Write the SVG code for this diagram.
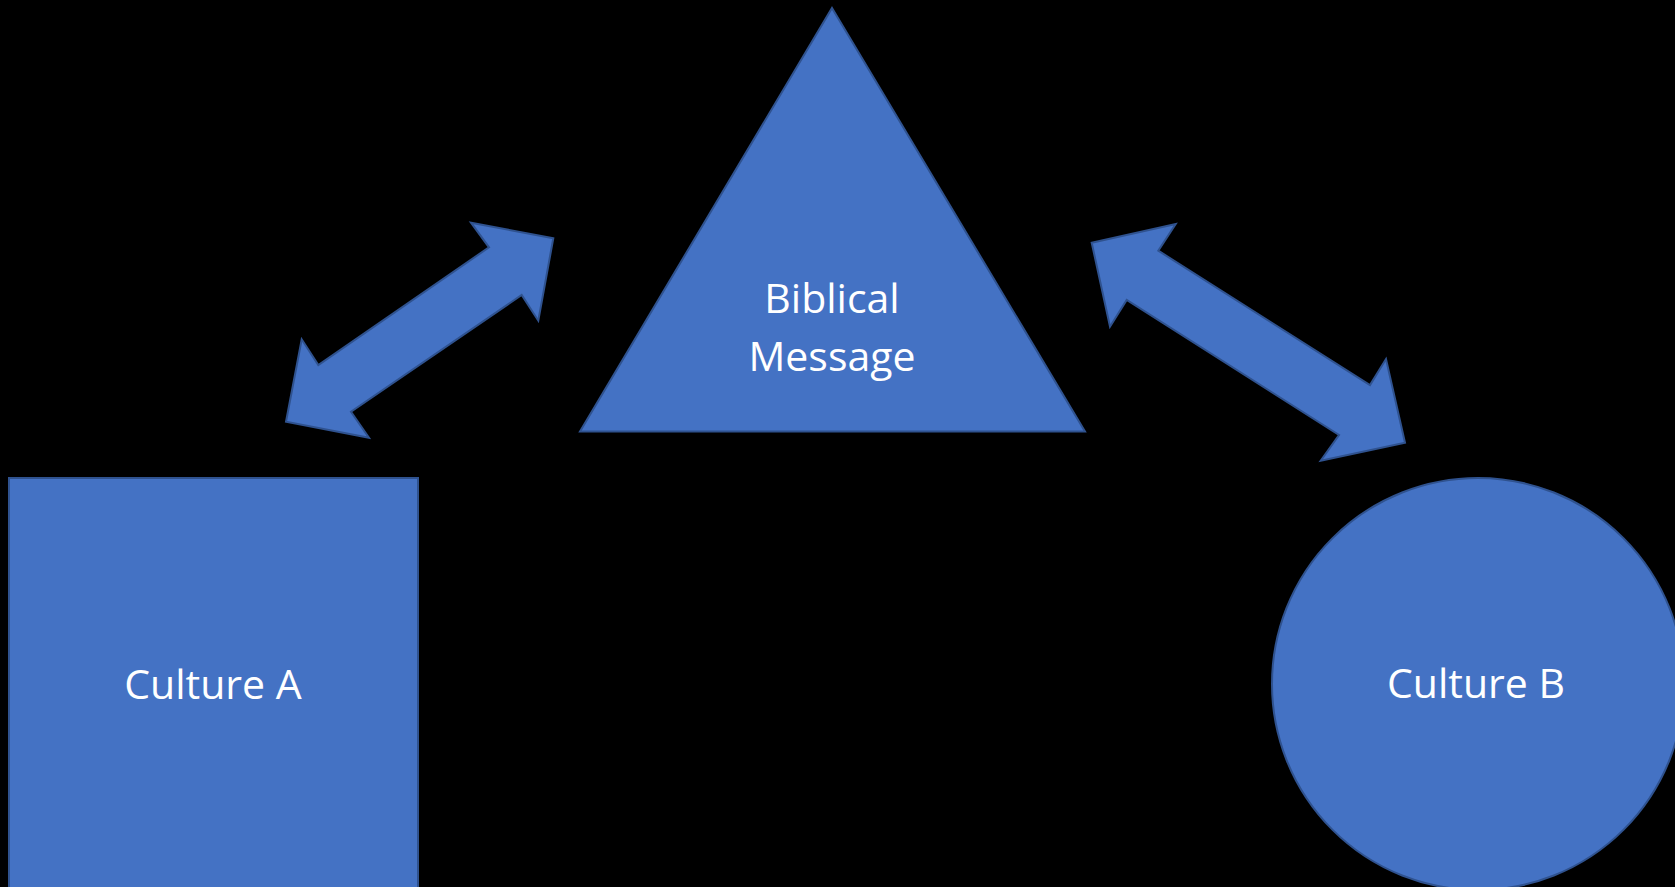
<svg xmlns="http://www.w3.org/2000/svg" width="1675" height="887" viewBox="0 0 1675 887">
<style>
.shape{fill:#4472C4;stroke:#2F528F;stroke-width:2;stroke-linejoin:miter}
.lbl{font-family:"Open Sans","Liberation Sans",sans-serif;font-size:41px;fill:#FFFFFF;text-anchor:middle}
</style>
<rect x="0" y="0" width="1675" height="887" fill="#000000"/>
<g id="connectors">
<polygon class="shape" points="553.3,238.3 471,222.7 489,247.3 318.3,365 301.7,339.3 286,421.7 369,437.7 351,411.7 521.7,295 538.3,320.7"/>
<polygon class="shape" points="1091.7,242.7 1175.7,224 1158.3,250.7 1370,385 1386,359 1405,442.7 1320.7,460.7 1339,435 1126.7,300 1110,326.7"/>
</g>
<g id="biblical-message">
<polygon class="shape" points="832,8 1085,431.5 580,431.5"/>
<text class="lbl" x="832" y="313">Biblical</text>
<text class="lbl" x="832" y="371">Message</text>
</g>
<g id="culture-a">
<rect class="shape" x="9" y="478" width="409" height="410"/>
<text class="lbl" x="213" y="699">Culture A</text>
</g>
<g id="culture-b">
<circle class="shape" cx="1478" cy="684" r="206"/>
<text class="lbl" x="1476" y="698">Culture B</text>
</g>
</svg>
